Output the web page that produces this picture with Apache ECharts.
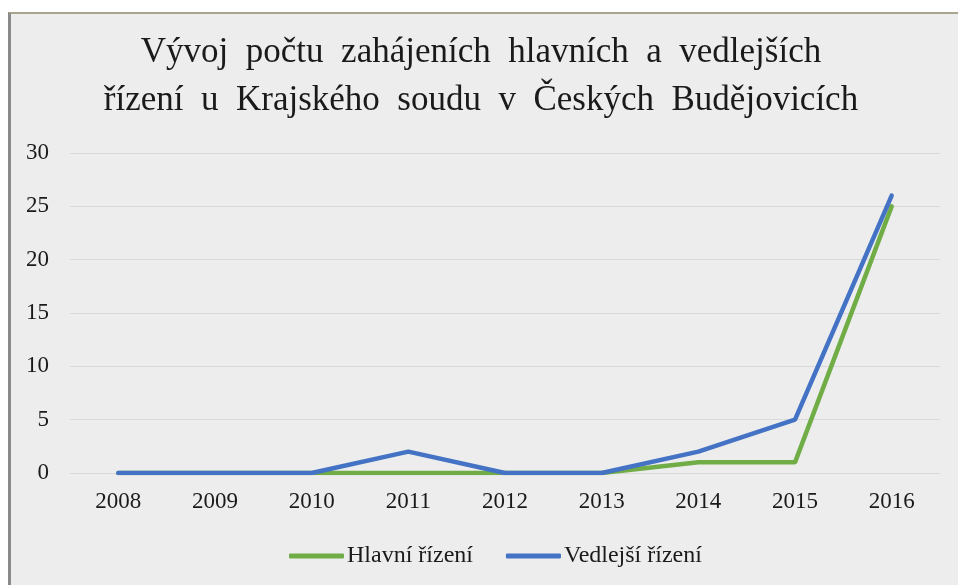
<!DOCTYPE html>
<html><head><meta charset="utf-8">
<script src="https://cdn.jsdelivr.net/npm/echarts@6/dist/echarts.min.js"></script>
<style>
html,body{margin:0;padding:0;background:#fff;width:958px;height:585px;overflow:hidden;}
#panel{position:absolute;left:8px;top:12px;width:960px;height:590px;background:#ededed;border-left:3px solid #8a8a8a;border-top:2px solid #a9a58c;box-sizing:border-box;}
#chart{position:absolute;left:0;top:0;width:958px;height:585px;}
</style></head>
<body>
<div id="panel"></div>
<div id="chart"></div>
<script>
const titleText = "Vývoj  počtu  zahájeních  hlavních  a  vedlejších\nřízení  u  Krajského  soudu  v  Českých  Budějovicích";
const categories = ["2008","2009","2010","2011","2012","2013","2014","2015","2016"];
const hlavni = [0,0,0,0,0,0,1,1,25];
const vedlejsi = [0,0,0,2,0,0,2,5,26];
const seriesNames = ["Hlavní řízení","Vedlejší řízení"];
const yTicks = {min:0, max:30, interval:5};

const font = "'Liberation Serif', 'Times New Roman', serif";
const chart = echarts.init(document.getElementById('chart'), null, {renderer:'canvas'});
chart.setOption({
  backgroundColor:'transparent',
  animation:false,
  title:{
    text:titleText, left:476, textAlign:'center', top:24,
    textStyle:{fontFamily:font, fontSize:35, fontWeight:'normal', color:'#1a1a1a', lineHeight:48}
  },
  legend:{
    data:seriesNames, left:284, top:539, icon:'roundRect', itemWidth:55, itemHeight:5, itemGap:33,
    textStyle:{fontFamily:font, fontSize:24, color:'#1a1a1a', padding:[0,0,0,-2]}
  },
  grid:{left:70, right:18, top:153, bottom:112, containLabel:false},
  xAxis:{
    type:'category', data:categories, boundaryGap:true,
    axisLine:{show:true, lineStyle:{color:'#d9d9d9', width:1}},
    axisTick:{show:false},
    axisLabel:{fontFamily:font, fontSize:23, color:'#1a1a1a', margin:17}
  },
  yAxis:{
    type:'value', min:yTicks.min, max:yTicks.max, interval:yTicks.interval,
    axisLine:{show:false}, axisTick:{show:false},
    splitLine:{lineStyle:{color:'#d9d9d9', width:1}},
    axisLabel:{fontFamily:font, fontSize:23, color:'#1a1a1a', margin:21}
  },
  series:[
    {name:seriesNames[0], type:'line', data:hlavni, symbol:'none', lineStyle:{color:'#70ad47', width:4.5, cap:'round'}, itemStyle:{color:'#70ad47'}, z:2},
    {name:seriesNames[1], type:'line', data:vedlejsi, symbol:'none', lineStyle:{color:'#4472c4', width:4.5, cap:'round'}, itemStyle:{color:'#4472c4'}, z:3}
  ]
});
</script>
</body></html>
